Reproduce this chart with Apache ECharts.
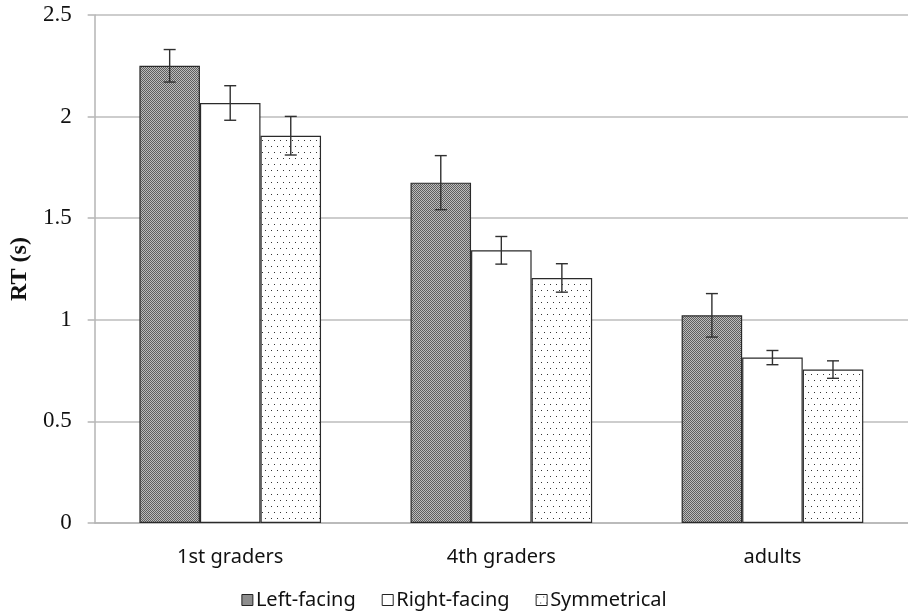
<!DOCTYPE html>
<html>
<head>
<meta charset="utf-8">
<script src="https://cdn.jsdelivr.net/npm/echarts@6/dist/echarts.min.js"></script>
<style>html,body{margin:0;padding:0;background:#fff}#c{width:908px;height:616px}</style>
</head>
<body>
<div id="c"></div>
<script>
const categories = ['1st graders', '4th graders', 'adults'];
const seriesNames = ['Left-facing', 'Right-facing', 'Symmetrical'];
const leftFacing = [2.25, 1.675, 1.022];
const rightFacing = [2.067, 1.342, 0.814];
const symmetrical = [1.906, 1.206, 0.755];
const leftErr = [0.08, 0.133, 0.107];
const rightErr = [0.085, 0.068, 0.035];
const symErr = [0.095, 0.07, 0.043];
const yTicks = [0, 0.5, 1, 1.5, 2, 2.5];

const SERIF = "'Liberation Serif', 'Times New Roman', serif";
const SANS = "'Noto Sans', 'Open Sans', sans-serif";

function makeChecker() {
  const c = document.createElement('canvas');
  c.width = 2; c.height = 2;
  const g = c.getContext('2d');
  g.fillStyle = '#bcbcbc'; g.fillRect(0, 0, 2, 2);
  g.fillStyle = '#5e5e5e'; g.fillRect(0, 0, 1, 1); g.fillRect(1, 1, 1, 1);
  return c;
}
function makeDots() {
  const c = document.createElement('canvas');
  c.width = 6; c.height = 12;
  const g = c.getContext('2d');
  g.fillStyle = '#ffffff'; g.fillRect(0, 0, 6, 12);
  g.fillStyle = '#333333';
  g.fillRect(1, 2, 1, 1);
  g.fillRect(4, 8, 1, 1);
  return c;
}
const fills = [
  { image: makeChecker(), repeat: 'repeat' },
  '#ffffff',
  { image: makeDots(), repeat: 'repeat' }
];
const values = [leftFacing, rightFacing, symmetrical];
const errs = [leftErr, rightErr, symErr];
const gapRatio = 0.33;

const barSeries = seriesNames.map((n, i) => ({
  name: n,
  type: 'bar',
  data: values[i],
  barGap: '0%',
  barCategoryGap: '33%',
  itemStyle: { color: fills[i], borderColor: '#2a2a2a', borderWidth: 1.2 },
  emphasis: { disabled: true },
  z: 2
}));

const errData = [];
for (let s = 0; s < 3; s++) {
  for (let k = 0; k < categories.length; k++) {
    errData.push([k, values[s][k] - errs[s][k], values[s][k] + errs[s][k], s]);
  }
}

const errSeries = {
  type: 'custom',
  name: 'err',
  data: errData,
  encode: { x: 0, y: [1, 2] },
  z: 5,
  renderItem: function (params, api) {
    const k = api.value(0), lo = api.value(1), hi = api.value(2), s = api.value(3);
    const band = api.size([1, 0])[0];
    const bw = band * (1 - gapRatio) / 3;
    const c = api.coord([k, lo]);
    const x = c[0] + (s - 1) * bw;
    const yl = c[1];
    const yh = api.coord([k, hi])[1];
    const cap = 6;
    const st = { stroke: '#303030', lineWidth: 1.4 };
    return {
      type: 'group',
      children: [
        { type: 'line', shape: { x1: x, y1: yl, x2: x, y2: yh }, style: st },
        { type: 'line', shape: { x1: x - cap, y1: yl, x2: x + cap, y2: yl }, style: st },
        { type: 'line', shape: { x1: x - cap, y1: yh, x2: x + cap, y2: yh }, style: st }
      ]
    };
  }
};

const chart = echarts.init(document.getElementById('c'), null, { renderer: 'canvas' });
chart.setOption({
  animation: false,
  backgroundColor: '#ffffff',
  grid: { left: 90, right: -2, top: 15, bottom: 93, containLabel: false },
  legend: {
    data: seriesNames,
    bottom: 1,
    left: 'center',
    icon: 'rect',
    itemWidth: 11,
    itemHeight: 11,
    itemGap: 26,
    itemStyle: { borderColor: '#222', borderWidth: 1 },
    textStyle: { fontFamily: SANS, fontSize: 20, color: '#111', padding: [0, 0, 0, -2] }
  },
  xAxis: {
    type: 'category',
    data: categories,
    axisLine: { lineStyle: { color: '#b5b5b5', width: 1.5 } },
    axisTick: { show: false },
    axisLabel: { fontFamily: SANS, fontSize: 20, color: '#111', margin: 24 },
    splitLine: { show: false }
  },
  yAxis: {
    type: 'value',
    min: 0,
    max: 2.5,
    interval: 0.5,
    name: 'RT (s)',
    nameLocation: 'middle',
    nameGap: 59,
    nameRotate: 90,
    nameTextStyle: { fontFamily: SERIF, fontWeight: 'bold', fontSize: 24, color: '#111' },
    axisLine: { show: true, lineStyle: { color: '#b5b5b5', width: 1.5 } },
    axisTick: { show: true, inside: false, length: 7, lineStyle: { color: '#b5b5b5', width: 1.5 } },
    axisLabel: {
      fontFamily: SERIF, fontSize: 23, color: '#111', margin: 23,
      formatter: function (v) { return yTicks.indexOf(v) >= 0 ? String(v) : ''; }
    },
    splitLine: { show: true, lineStyle: { color: '#bdbdbd', width: 1.5 } }
  },
  series: barSeries.concat([errSeries])
});
</script>
</body>
</html>
